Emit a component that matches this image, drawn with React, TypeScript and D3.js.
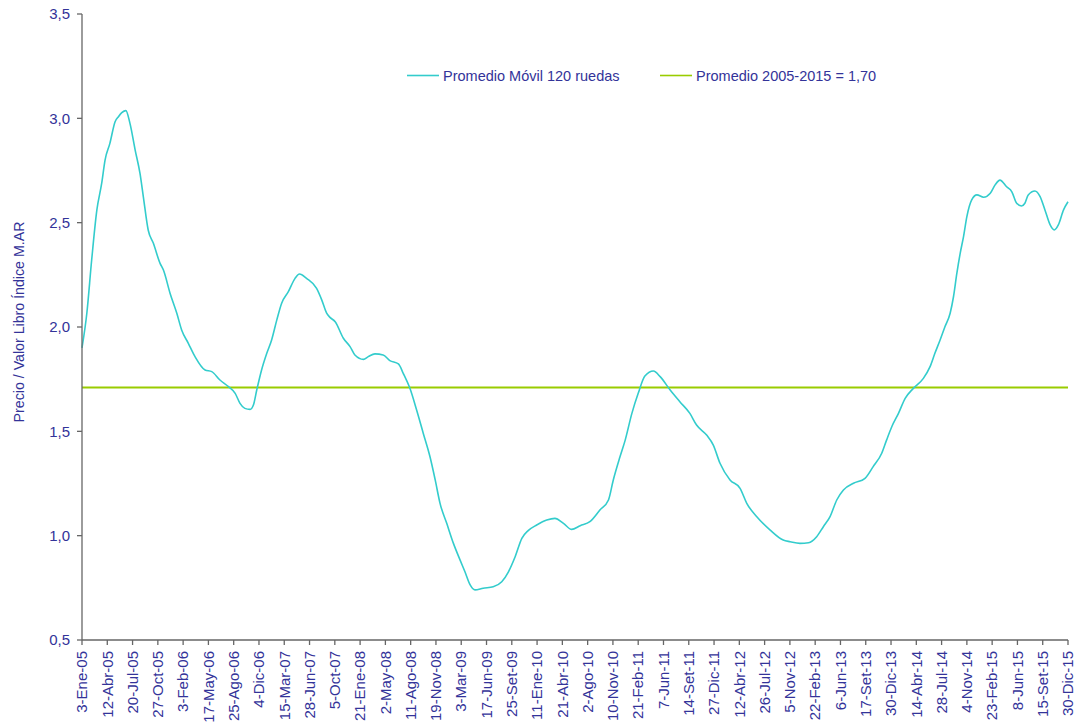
import React from 'react';
import * as d3 from 'd3';

const tickLabels = [
  '3-Ene-05', '12-Abr-05', '20-Jul-05', '27-Oct-05', '3-Feb-06', '17-May-06', '25-Ago-06', '4-Dic-06',
  '15-Mar-07', '28-Jun-07', '5-Oct-07', '21-Ene-08', '2-May-08', '11-Ago-08', '19-Nov-08', '3-Mar-09',
  '17-Jun-09', '25-Set-09', '11-Ene-10', '21-Abr-10', '2-Ago-10', '10-Nov-10', '21-Feb-11', '7-Jun-11',
  '14-Set-11', '27-Dic-11', '12-Abr-12', '26-Jul-12', '5-Nov-12', '22-Feb-13', '6-Jun-13', '17-Set-13',
  '30-Dic-13', '14-Abr-14', '28-Jul-14', '4-Nov-14', '23-Feb-15', '8-Jun-15', '15-Set-15', '30-Dic-15',
];
const DAYS_PER_TICK = 68;

// trading-day index of each reading
const seriesDays = [
  0, 13, 26, 40, 53, 62, 75, 89, 98, 107, 118, 129, 143, 156, 165, 178, 192, 210, 219, 237,
  255, 268, 286, 304, 331, 349, 371, 394, 412, 425, 438, 452, 461, 470, 483, 497, 510, 524, 537, 555,
  573, 585, 604, 631, 645, 658, 667, 681, 703, 721, 734, 757, 770, 788, 810, 828, 851, 864, 882, 900,
  918, 936, 950, 963, 981, 999, 1017, 1030, 1044, 1057, 1079, 1106, 1129, 1147, 1165, 1183, 1200, 1223, 1250, 1272,
  1295, 1317, 1340, 1366, 1393, 1416, 1429, 1447, 1461, 1479, 1496, 1514, 1537, 1555, 1582, 1608, 1635, 1653, 1680, 1698,
  1716, 1743, 1770, 1788, 1815, 1851, 1886, 1905, 1931, 1954, 1976, 1994, 2012, 2030, 2048, 2075, 2106, 2128, 2151, 2164,
  2178, 2196, 2214, 2236, 2263, 2281, 2294, 2308, 2321, 2335, 2344, 2353, 2362, 2371, 2380, 2393, 2407, 2425, 2443, 2456,
  2469, 2487, 2501, 2514, 2527, 2536, 2545, 2563, 2577, 2590, 2604, 2615, 2626, 2640, 2652,
];
// Promedio Móvil 120 ruedas (Precio / Valor Libro)
const seriesValues = [
  1.9, 2.066, 2.321, 2.561, 2.689, 2.8, 2.88, 2.984, 3.008, 3.027, 3.037, 2.976, 2.848, 2.736, 2.624, 2.465, 2.401, 2.305, 2.273, 2.161,
  2.066, 1.986, 1.922, 1.858, 1.794, 1.786, 1.746, 1.714, 1.682, 1.634, 1.61, 1.605, 1.626, 1.698, 1.794, 1.874, 1.938, 2.034, 2.114, 2.169,
  2.233, 2.254, 2.233, 2.185, 2.129, 2.066, 2.046, 2.025, 1.946, 1.906, 1.866, 1.845, 1.858, 1.871, 1.866, 1.839, 1.823, 1.778, 1.706, 1.602,
  1.49, 1.378, 1.267, 1.155, 1.059, 0.963, 0.883, 0.827, 0.764, 0.74, 0.748, 0.755, 0.779, 0.827, 0.899, 0.987, 1.024, 1.051, 1.075, 1.083,
  1.059, 1.03, 1.048, 1.067, 1.123, 1.171, 1.267, 1.378, 1.458, 1.586, 1.682, 1.765, 1.789, 1.762, 1.698, 1.642, 1.586, 1.53, 1.482, 1.434,
  1.347, 1.267, 1.227, 1.155, 1.091, 1.027, 0.979, 0.971, 0.963, 0.966, 0.995, 1.043, 1.091, 1.171, 1.219, 1.251, 1.275, 1.331, 1.395, 1.458,
  1.522, 1.586, 1.658, 1.706, 1.754, 1.81, 1.874, 1.938, 2.001, 2.066, 2.145, 2.257, 2.353, 2.433, 2.529, 2.609, 2.633, 2.622, 2.641, 2.681,
  2.704, 2.672, 2.648, 2.593, 2.58, 2.593, 2.633, 2.652, 2.625, 2.561, 2.489, 2.465, 2.489, 2.561, 2.6,
];
const AVERAGE = 1.71;
const yTicks = [0.5, 1.0, 1.5, 2.0, 2.5, 3.0, 3.5];

const seriesName = 'Promedio Móvil 120 ruedas';
const averageName = 'Promedio 2005-2015 = 1,70';
const yTitle = 'Precio / Valor Libro Índice M.AR';

const TEXT = '#333399';
const AXIS = '#666666';
const CYAN = '#33CCCC';
const GREEN = '#99CC00';
const FONT = '"Liberation Sans", Arial, sans-serif';

export default function App() {
  const W = 1075;
  const H = 724;
  const left = 82, right = 1068, top = 14, bottom = 640;
  const maxDay = (tickLabels.length - 1) * DAYS_PER_TICK;
  const x = d3.scaleLinear().domain([0, maxDay]).range([left, right]);
  const y = d3.scaleLinear().domain([0.5, 3.5]).range([bottom, top]);
  const fmt = (v: number) => d3.format('.1f')(v).replace('.', ',');

  const pts = seriesValues.map((v, i) => [seriesDays[i], v] as [number, number]);
  const path = d3.line<[number, number]>()
    .x(d => x(d[0]))
    .y(d => y(d[1]))
    .curve(d3.curveMonotoneX)(pts) || '';

  return (
    <div style={{ position: 'absolute', left: 0, top: 0 }}>
      <svg width={W} height={H} style={{ display: 'block', background: '#fff' }} fontFamily={FONT}>
        {/* average line */}
        <line x1={left} x2={right} y1={y(AVERAGE)} y2={y(AVERAGE)} stroke={GREEN} strokeWidth={2} />
        {/* series */}
        <path d={path} fill="none" stroke={CYAN} strokeWidth={1.6} />
        {/* y axis */}
        <line x1={left} x2={left} y1={top} y2={bottom} stroke={AXIS} strokeWidth={1.3} />
        {yTicks.map(t => (
          <g key={t}>
            <line x1={left - 5} x2={left} y1={y(t)} y2={y(t)} stroke={AXIS} strokeWidth={1.3} />
            <text x={70} y={y(t)} dy="0.35em" textAnchor="end" fontSize={15} fill={TEXT}>{fmt(t)}</text>
          </g>
        ))}
        {/* x axis */}
        <line x1={left} x2={right} y1={bottom} y2={bottom} stroke={AXIS} strokeWidth={1.3} />
        {tickLabels.map((lab, i) => {
          const tx = x(i * DAYS_PER_TICK);
          return (
            <g key={lab}>
              <line x1={tx} x2={tx} y1={bottom} y2={bottom + 5} stroke={AXIS} strokeWidth={1.3} />
              <text transform={`translate(${tx},${bottom + 11}) rotate(-90)`} dy="0.35em" textAnchor="end" fontSize={15} fill={TEXT}>{lab}</text>
            </g>
          );
        })}
        {/* y title */}
        <text transform={`translate(23.5,322) rotate(-90)`} textAnchor="middle" fontSize={14.2} fill={TEXT}>{yTitle}</text>
        {/* legend */}
        <line x1={407} x2={439} y1={75.5} y2={75.5} stroke={CYAN} strokeWidth={1.6} />
        <text x={443} y={75.5} dy="0.35em" fontSize={14.5} fill={TEXT}>{seriesName}</text>
        <line x1={660} x2={692} y1={75.5} y2={75.5} stroke={GREEN} strokeWidth={1.6} />
        <text x={696} y={75.5} dy="0.35em" fontSize={14.5} fill={TEXT}>{averageName}</text>
      </svg>
    </div>
  );
}
